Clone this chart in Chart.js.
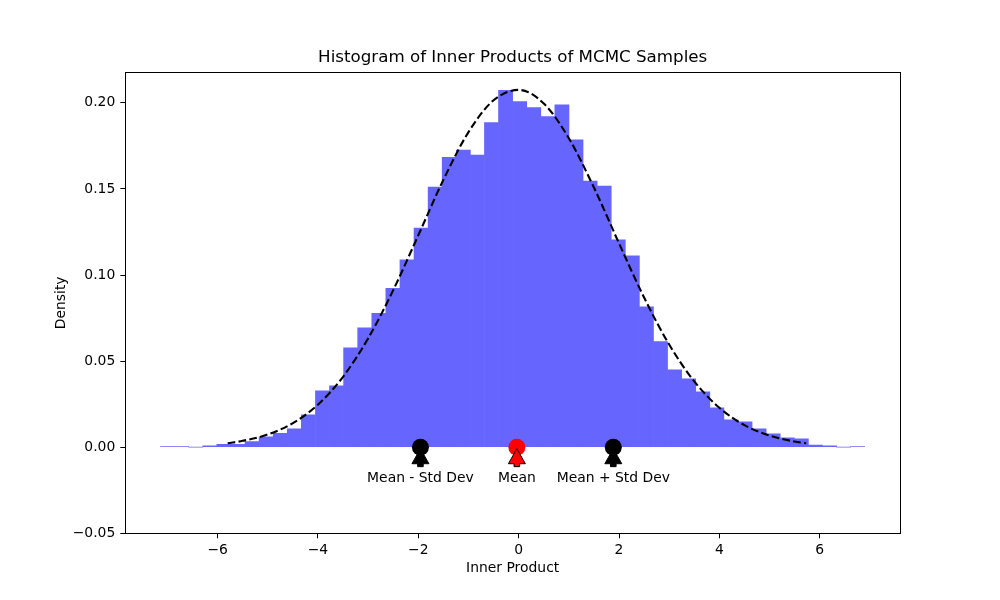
<!DOCTYPE html>
<html>
<head>
<meta charset="utf-8">
<script src="https://cdn.jsdelivr.net/npm/chart.js@4.4.1/dist/chart.umd.min.js"></script>
<style>
html, body { margin: 0; padding: 0; background: #ffffff; }
#wrap { width: 1000px; height: 600px; }
</style>
</head>
<body>
<div id="wrap"><canvas id="c" width="1000" height="600"></canvas></div>
<script>
// ---- data ----
const binStart = -7.138;
const binWidth = 0.2807;
const densities = [
  0.0004, 0.0004, 0.0, 0.0008, 0.0017, 0.0017, 0.0032, 0.0060, 0.0080, 0.0106,
  0.0188, 0.0328, 0.0357, 0.0577, 0.0693, 0.0778, 0.0923, 0.1088, 0.1273, 0.1510,
  0.1684, 0.1726, 0.1697, 0.1885, 0.2073, 0.2007, 0.1972, 0.1920, 0.1988, 0.1785,
  0.1546, 0.1517, 0.1204, 0.1111, 0.0815, 0.0613, 0.0449, 0.0397, 0.0321, 0.0228,
  0.0159, 0.0147, 0.0106, 0.0077, 0.0054, 0.0048, 0.0013, 0.0008, 0.0, 0.0004
];
const curveX = [-5.80, -5.5, -5.0, -4.5, -4.0, -3.5, -3.0, -2.5, -2.0, -1.5, -1.0, -0.5, 0.0,
                0.5, 1.0, 1.5, 2.0, 2.5, 3.0, 3.5, 4.0, 4.5, 5.0, 5.5, 5.73];
const curveY = [0.0023, 0.0037, 0.0074, 0.0140, 0.0247, 0.0409, 0.0632, 0.0912, 0.1231, 0.1553, 0.1830, 0.2015, 0.2075,
                0.1996, 0.1794, 0.1508, 0.1184, 0.0869, 0.0596, 0.0382, 0.0229, 0.0128, 0.0067, 0.0033, 0.0023];
const markerX = [-1.958, -0.036, 1.886];
const markerY = [0, 0, 0];
const markerLabels = ['Mean - Std Dev', 'Mean', 'Mean + Std Dev'];
const markerColors = ['#000000', '#ff0000', '#000000'];
const labelY = -0.02;
const titleText = 'Histogram of Inner Products of MCMC Samples';
const xLabel = 'Inner Product';
const yLabel = 'Density';

// ---- build datasets ----
const histData = densities.map((d, i) => ({ x: binStart + binWidth * (i + 0.5), y: d }));
const curveData = curveX.map((x, i) => ({ x: x, y: curveY[i] }));
const markerData = markerX.map((x, i) => ({ x: x, y: markerY[i] }));

Chart.defaults.font.family = "'DejaVu Sans', sans-serif";
Chart.defaults.color = '#000000';

const fmt = (v, digits) => {
  if (Math.abs(v) < 1e-9) return (0).toFixed(digits);
  const s = Math.abs(v).toFixed(digits);
  return v < 0 ? '\u2212' + s : s;
};

const framePlugin = {
  id: 'frame',
  afterDraw(chart) {
    const { ctx, chartArea: a } = chart;
    ctx.save();
    ctx.strokeStyle = '#000000';
    ctx.lineWidth = 1;
    ctx.strokeRect(Math.round(a.left) + 0.5, Math.round(a.top) + 0.5,
                   Math.round(a.right - a.left), Math.round(a.bottom - a.top));
    ctx.restore();
  }
};

const annotPlugin = {
  id: 'annot',
  afterDatasetsDraw(chart) {
    const { ctx } = chart;
    const xs = chart.scales.x, ys = chart.scales.y;
    ctx.save();
    for (let i = 0; i < markerX.length; i++) {
      const px = xs.getPixelForValue(markerX[i]);
      const py = ys.getPixelForValue(markerY[i]);
      const ty = ys.getPixelForValue(labelY);
      const tip = py + 1.5;
      const tail = ty - 15;
      const headLen = 15;
      const headHalf = 8.5;
      const shaftHalf = 2.8;
      const base = tip + headLen;
      ctx.beginPath();
      ctx.moveTo(px, tip);
      ctx.lineTo(px + headHalf, base);
      ctx.lineTo(px + shaftHalf, base);
      ctx.lineTo(px + shaftHalf, tail);
      ctx.lineTo(px - shaftHalf, tail);
      ctx.lineTo(px - shaftHalf, base);
      ctx.lineTo(px - headHalf, base);
      ctx.closePath();
      ctx.fillStyle = markerColors[i];
      ctx.fill();
      ctx.strokeStyle = '#000000';
      ctx.lineWidth = 1;
      ctx.stroke();
      ctx.fillStyle = '#000000';
      ctx.font = "13.9px 'DejaVu Sans', sans-serif";
      ctx.textAlign = 'center';
      ctx.textBaseline = 'alphabetic';
      ctx.fillText(markerLabels[i], px, ty);
    }
    ctx.restore();
  }
};

new Chart(document.getElementById('c'), {
  type: 'bar',
  data: {
    datasets: [
      {
        type: 'scatter',
        label: 'markers',
        data: markerData,
        pointRadius: 8.5,
        pointHoverRadius: 8.5,
        pointBackgroundColor: markerColors,
        pointBorderColor: markerColors,
        pointBorderWidth: 0,
        order: 1
      },
      {
        type: 'line',
        label: 'Normal fit',
        data: curveData,
        borderColor: '#000000',
        borderWidth: 2.1,
        borderDash: [7.7, 3.3],
        pointRadius: 0,
        fill: false,
        cubicInterpolationMode: 'monotone',
        order: 2
      },
      {
        type: 'bar',
        label: 'Histogram',
        data: histData,
        backgroundColor: '#6666ff',
        borderWidth: 0,
        barPercentage: 1.0,
        categoryPercentage: 1.0,
        order: 3
      }
    ]
  },
  options: {
    responsive: false,
    animation: false,
    devicePixelRatio: 1,
    layout: { padding: { left: 25.4, right: 0, top: 0, bottom: 0 } },
    plugins: {
      legend: { display: false },
      tooltip: { enabled: false },
      title: {
        display: true,
        text: titleText,
        color: '#000000',
        font: { size: 16.7, weight: 'normal', family: "'DejaVu Sans', sans-serif" },
        padding: { top: 48, bottom: 4.3 }
      }
    },
    scales: {
      x: {
        type: 'linear',
        min: -7.84,
        max: 7.60,
        offset: false,
        grid: { display: true, drawOnChartArea: false, drawTicks: true, tickLength: 5, tickColor: '#000000', offset: false },
        border: { display: true, color: '#000000', width: 1 },
        ticks: {
          stepSize: 2,
          includeBounds: false,
          autoSkip: false,
          maxRotation: 0,
          padding: 4,
          color: '#000000',
          font: { size: 13.9 },
          callback: (v) => fmt(v, 0)
        },
        title: {
          display: true,
          text: xLabel,
          color: '#000000',
          font: { size: 13.9 },
          padding: { top: 0, bottom: 23.6 }
        },
        afterFit: (s) => { s.height = 66.7; }
      },
      y: {
        type: 'linear',
        min: -0.05,
        max: 0.2177,
        grid: { display: true, drawOnChartArea: false, drawTicks: true, tickLength: 5, tickColor: '#000000' },
        border: { display: true, color: '#000000', width: 1 },
        ticks: {
          stepSize: 0.05,
          includeBounds: false,
          autoSkip: false,
          padding: 5,
          color: '#000000',
          font: { size: 13.9 },
          callback: (v) => fmt(v, 2)
        },
        title: {
          display: true,
          text: yLabel,
          color: '#000000',
          font: { size: 13.9 },
          padding: { top: 27.6, bottom: 0 }
        },
        afterFit: (s) => { s.width = 99.9; }
      },
      yRight: {
        type: 'linear',
        position: 'right',
        display: true,
        min: 0,
        max: 1,
        grid: { display: false, drawTicks: false },
        border: { display: false },
        ticks: { display: false },
        afterFit: (s) => { s.width = 100; }
      }
    }
  },
  plugins: [framePlugin, annotPlugin]
});
</script>
</body>
</html>
